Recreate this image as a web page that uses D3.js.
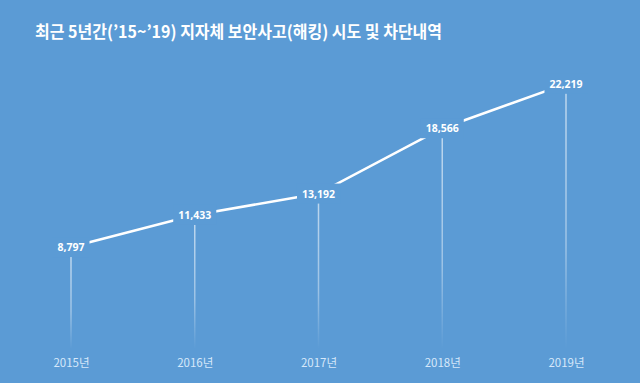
<!DOCTYPE html>
<html><head><meta charset="utf-8">
<script src="https://cdn.jsdelivr.net/npm/d3@7"></script>
<style>html,body{margin:0;padding:0;background:#5b9bd5;overflow:hidden}</style>
</head><body>
<script>
const years = ["2015년","2016년","2017년","2018년","2019년"];
const values = [8797, 11433, 13192, 18566, 22219];
const title = "최근 5년간(’15~’19) 지자체 보안사고(해킹) 시도 및 차단내역";

const W = 640, H = 383, bg = "#5b9bd5";
const svg = d3.select("body").append("svg").attr("width", W).attr("height", H);
svg.append("rect").attr("width", W).attr("height", H).attr("fill", bg);

const defs = svg.append("defs");
const grad = defs.append("linearGradient").attr("id","fade").attr("x1",0).attr("y1",0).attr("x2",0).attr("y2",1);
grad.append("stop").attr("offset","0%").attr("stop-color","#fff").attr("stop-opacity",0.6);
grad.append("stop").attr("offset","60%").attr("stop-color","#fff").attr("stop-opacity",0.4);
grad.append("stop").attr("offset","100%").attr("stop-color","#fff").attr("stop-opacity",0);

svg.append("text").attr("x", 35).attr("y", 38)
  .attr("font-family", "'Noto Sans CJK KR', sans-serif").attr("font-weight", "bold")
  .attr("font-size", 17).attr("fill", "#fff")
  .attr("textLength", 407).attr("lengthAdjust", "spacingAndGlyphs")
  .text(title);

const x = d3.scalePoint().domain(years).range([71, 566]);
const y = d3.scaleLinear().domain([0, 25000]).range([354, 50]);
const data = years.map((yr, i) => ({yr, v: values[i]}));

svg.selectAll("rect.drop").data(data).enter().append("rect")
  .attr("class","drop")
  .attr("x", d => x(d.yr) - 0.75).attr("width", 1.5)
  .attr("y", d => y(d.v) + 9).attr("height", d => 349 - (y(d.v) + 9))
  .attr("fill", "url(#fade)");

svg.append("path").datum(data)
  .attr("d", d3.line().x(d => x(d.yr)).y(d => y(d.v)))
  .attr("fill","none").attr("stroke","#fff").attr("stroke-width",2.5);

const lg = svg.selectAll("g.lab").data(data).enter().append("g").attr("class","lab");
lg.append("rect").attr("class","bgr");
lg.append("text")
  .attr("x", d => x(d.yr)).attr("y", d => y(d.v) + 4)
  .attr("text-anchor","middle")
  .attr("font-family","'Noto Sans', sans-serif").attr("font-weight","bold")
  .attr("font-size", 10.5).attr("fill","#fff")
  .text(d => d3.format(",")(d.v));
lg.each(function(d){
  const t = d3.select(this).select("text").node().getBBox();
  d3.select(this).select("rect")
    .attr("x", t.x - 5).attr("width", t.width + 10)
    .attr("y", y(d.v) - 10).attr("height", 20)
    .attr("fill", bg);
});

const ax = svg.append("g").attr("transform","translate(0,369)")
  .call(d3.axisBottom(x).tickSize(0).tickPadding(0));
ax.select(".domain").remove();
ax.selectAll("text").attr("font-family","'Noto Sans CJK KR', sans-serif")
  .attr("font-size", 11.5).attr("fill","#d6e8fa").attr("dy","-0.2em");
</script>
</body></html>
